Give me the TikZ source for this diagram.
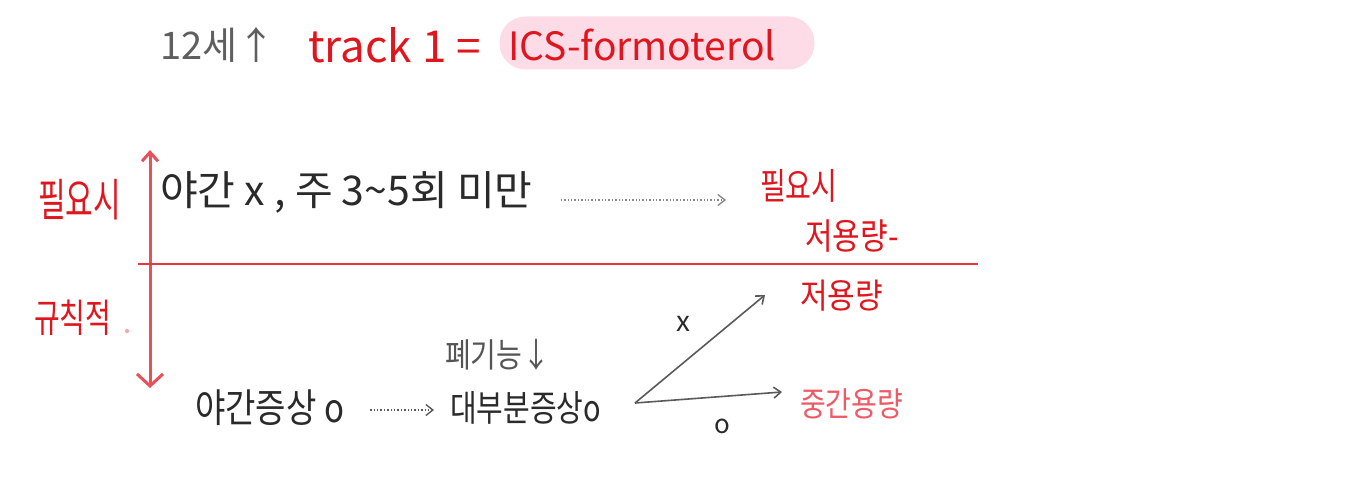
\documentclass[tikz,border=0pt]{standalone}
\usepackage{fontspec}
\setmainfont{Noto Sans CJK KR}
\usetikzlibrary{arrows.meta}
\definecolor{inkred}{HTML}{E0161E}
\definecolor{softred}{HTML}{E8505A}
\definecolor{paler}{HTML}{EE5A66}
\definecolor{pinkbg}{HTML}{FDDCE8}
\definecolor{ink}{HTML}{2A2A2A}
\definecolor{greyink}{HTML}{5A5A5A}
\begin{document}
\begin{tikzpicture}[x=1pt,y=-1pt,
  txt/.style={inner sep=0pt, anchor=west, text=ink, font=\fontsize{29}{31}\selectfont},
  rtxt/.style={txt, text=inkred},
  conn/.style={draw=greyink, line width=1.6pt, -{Straight Barb[length=7pt,width=11pt]}},
  dimconn/.style={draw=greyink!70, line width=1.4pt, dotted, -{Straight Barb[length=7pt,width=11pt]}}
]
\useasboundingbox (0,0) rectangle (1366,484);

% title
\node[txt, text=ink!75, font=\fontsize{38}{40}\selectfont] (age) at (160,45) {12세↑};
\node[rtxt, font=\fontsize{44}{46}\selectfont] (track) at (308,45) {track 1 =};
\node[fill=pinkbg, rounded corners=26pt, minimum width=315pt, minimum height=53pt, inner sep=0pt] (box) at (657,43) {};
\node[rtxt, font=\fontsize{39}{41}\selectfont] (ics) at (508,45) {ICS-formoterol};

% left axis
\coordinate (vt) at (150,150);
\coordinate (vb) at (150,388);
\draw[draw=softred, line width=3pt, {Straight Barb[length=9pt,width=16pt]}-{Straight Barb[length=12pt,width=26pt]}] (vt) -- (vb);
\coordinate (hl) at (138,264);
\coordinate (hr) at (978,264);
\draw[draw=inkred!85, line width=2pt] (hl) -- (hr);

\node[rtxt, font=\fontsize{30}{32}\selectfont] (need) at (38,200) {\scalebox{1}[1.5]{필요시}};
\node[rtxt, font=\fontsize{28}{30}\selectfont] (reg) at (34,318) {\scalebox{1}[1.4]{규칙적}};
\node[circle, fill=softred!50, inner sep=1.5pt] (dot) at (127,331) {};

% upper row
\node[txt, font=\fontsize{41}{43}\selectfont] (up) at (160,192) {야간 x , 주 3\textasciitilde5회 미만};
\node[rtxt, font=\fontsize{28}{30}\selectfont] (needr) at (760,186) {\scalebox{1}[1.3]{필요시}};
\node[rtxt, font=\fontsize{30}{32}\selectfont] (low1) at (805,236) {\scalebox{1}[1.2]{저용량-}};
\draw[dimconn] ([xshift=28pt,yshift=-8pt]up.east) -- ([xshift=-34pt,yshift=-14pt]needr.west);

% lower row
\node[txt, font=\fontsize{33}{35}\selectfont] (night) at (195,408) {\scalebox{1}[1.2]{야간증상 o}};
\node[txt, font=\fontsize{28}{30}\selectfont, text=ink!80] (lung) at (445,355) {\scalebox{1}[1.2]{폐기능↓}};
\node[txt] (most) at (450,408) {\scalebox{1}[1.25]{대부분증상o}};
\draw[dimconn, draw=greyink] ([xshift=26pt,yshift=-2pt]night.east) -- ([xshift=-16pt,yshift=-2pt]most.west);

\coordinate (fork) at (635,403);
\node[rtxt, font=\fontsize{30}{32}\selectfont] (low2) at (800,296) {\scalebox{1}[1.15]{저용량}};
\node[rtxt, text=paler, font=\fontsize{28}{30}\selectfont] (mid) at (800,404) {\scalebox{1}[1.2]{중간용량}};
\draw[conn] (fork) -- ([xshift=-35pt,yshift=1pt]low2.west);
\draw[conn] (fork) -- ([xshift=-18pt,yshift=12pt]mid.west);
\node[txt, text=ink, font=\fontsize{28}{30}\selectfont, anchor=center] (xm) at (683,324) {x};
\node[txt, text=ink, font=\fontsize{26}{28}\selectfont, anchor=center] (om) at (722,426) {o};
\end{tikzpicture}
\end{document}
